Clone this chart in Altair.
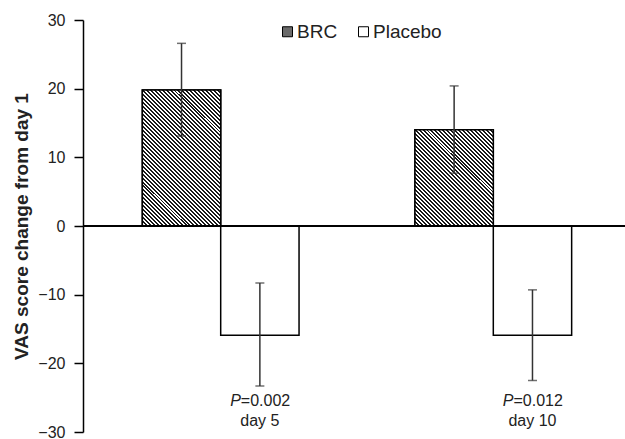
import altair as alt
import pandas as pd

# ---- data ----
days = ["day 5", "day 10"]
groups = ["BRC", "Placebo"]
brc_mean = [19.8, 14.0]
brc_upper = [26.6, 20.4]
brc_lower = [13.1, 7.7]
placebo_mean = [-15.9, -15.9]
placebo_upper = [-8.3, -9.3]
placebo_lower = [-23.3, -22.5]
p_values = ["0.002", "0.012"]
y_ticks = [-30, -20, -10, 0, 10, 20, 30]

rows = []
for i, d in enumerate(days):
    rows.append({"day": d, "group": "BRC", "mean": brc_mean[i],
                 "upper": brc_upper[i], "lower": brc_lower[i]})
    rows.append({"day": d, "group": "Placebo", "mean": placebo_mean[i],
                 "upper": placebo_upper[i], "lower": placebo_lower[i]})
df = pd.DataFrame(rows)

ann = pd.DataFrame({"day": days, "group": ["Placebo"] * len(days),
                    "P": ["P"] * len(days),
                    "rest": ["=" + p for p in p_values]})

# ---- layout constants ----
W, H = 542, 412
PX = H / 60.0          # pixels per unit on y
BAR_W = 78.3           # pixel width of one bar
FONT = "Liberation Sans"
INK = "#222222"


def hatch(value, period=2.8, dark="#1a1a1a", light="#ffffff"):
    """Diagonal stripe fill (top-left to bottom-right) as a linear gradient."""
    w, h = BAR_W, abs(value) * PX
    s = (w + h) / (w * w + h * h)
    length = (w + h) / 2 ** 0.5
    n = max(1, int(round(length / period)))
    stops = []
    for i in range(n):
        a, m, b = i / n, (i + 0.5) / n, (i + 1) / n
        stops += [{"offset": a, "color": dark}, {"offset": m, "color": dark},
                  {"offset": m, "color": light}, {"offset": b, "color": light}]
    return {"gradient": "linear", "x1": 0, "y1": 1,
            "x2": s * w, "y2": 1 - s * h, "stops": stops}


x_enc = alt.X("day:N", scale=alt.Scale(domain=days, range=[0, 548],
                                       paddingInner=0.4252, paddingOuter=0.2177),
              axis=None)
xo_enc = alt.XOffset("group:N", scale=alt.Scale(domain=groups, paddingInner=0,
                                                paddingOuter=0))
y_scale = alt.Scale(domain=[-30, 30], nice=False, zero=False)

base = alt.Chart(df)

bars = base.mark_bar(stroke="black", strokeWidth=1.5).encode(
    x=x_enc, xOffset=xo_enc,
    y=alt.Y("mean:Q", scale=y_scale,
            axis=alt.Axis(values=y_ticks, grid=False, title="VAS score change from day 1",
                          domainColor="black", domainWidth=1.5,
                          tickColor="black", tickWidth=1.5, tickSize=9,
                          labelPadding=9, labelFont=FONT, labelFontSize=16,
                          labelColor=INK, titleFont=FONT, titleFontSize=19,
                          titleFontWeight="bold", titleColor=INK,
                          titleX=-62, titleBaseline="middle")),
    y2=alt.datum(0),
    fill=alt.Fill("group:N", scale=alt.Scale(domain=groups, range=["#6a6a6a", "#ffffff"]),
                  legend=alt.Legend(title=None, orient="none", legendX=195, legendY=2,
                                    direction="horizontal", symbolType="square",
                                    symbolSize=100, symbolStrokeColor="black",
                                    symbolStrokeWidth=1, labelFont=FONT,
                                    labelFontSize=19, labelColor=INK,
                                    labelOffset=0, columnPadding=16, padding=0)),
)

hatched = []
for i, d in enumerate(days):
    hatched.append(
        base.transform_filter((alt.datum.group == "BRC") & (alt.datum.day == d))
        .mark_bar(fill=hatch(brc_mean[i]), stroke="black", strokeWidth=1.5)
        .encode(x=x_enc, xOffset=xo_enc, y=alt.Y("mean:Q", scale=y_scale), y2=alt.datum(0))
    )

err = base.mark_rule(color="#333333", strokeWidth=1.5).encode(
    x=x_enc, xOffset=xo_enc, y=alt.Y("lower:Q", scale=y_scale), y2="upper:Q")
cap_hi = base.mark_tick(orient="horizontal", size=9, thickness=1.5, color="#333333").encode(
    x=x_enc, xOffset=xo_enc, y=alt.Y("upper:Q", scale=y_scale))
cap_lo = base.mark_tick(orient="horizontal", size=9, thickness=1.5, color="#333333").encode(
    x=x_enc, xOffset=xo_enc, y=alt.Y("lower:Q", scale=y_scale))

zero = alt.Chart(df).mark_rule(color="black", strokeWidth=1.5).encode(y=alt.datum(0))

tbase = alt.Chart(ann)
p_txt = tbase.mark_text(font=FONT, fontSize=16, fontStyle="italic", align="right",
                        baseline="middle", dx=-19, color=INK).encode(
    x=x_enc, xOffset=xo_enc, y=alt.value(380.7), text="P:N")
rest_txt = tbase.mark_text(font=FONT, fontSize=16, align="left",
                           baseline="middle", dx=-19, color=INK).encode(
    x=x_enc, xOffset=xo_enc, y=alt.value(380.7), text="rest:N")
day_txt = tbase.mark_text(font=FONT, fontSize=16, align="center",
                          baseline="middle", color=INK).encode(
    x=x_enc, xOffset=xo_enc, y=alt.value(400.7), text="day:N")

chart = alt.layer(bars, *hatched, err, cap_hi, cap_lo, zero, p_txt, rest_txt, day_txt).properties(
    width=W, height=H,
    autosize=alt.AutoSizeParams(type="none"),
    padding={"left": 83, "top": 20, "right": 0, "bottom": 7},
).configure_view(stroke=None)

chart.save("out.html", embed_options={"renderer": "svg", "actions": False})
